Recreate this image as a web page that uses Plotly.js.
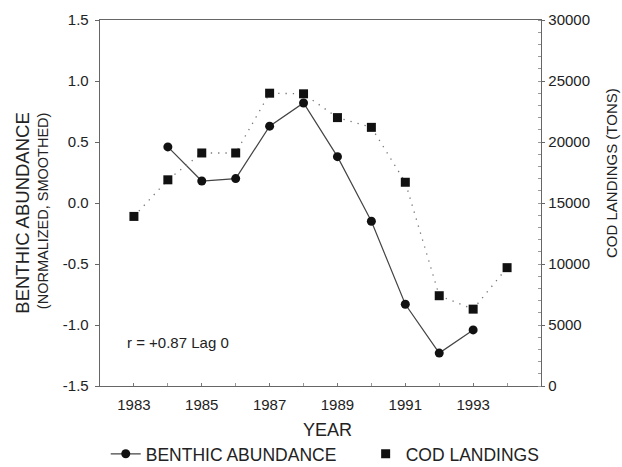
<!DOCTYPE html>
<html>
<head>
<meta charset="utf-8">
<script src="https://cdn.plot.ly/plotly-3.0.1.min.js"></script>
<style>html,body{margin:0;padding:0;background:#fff;}#chart{width:622px;height:467px;}</style>
</head>
<body>
<div id="chart"></div>
<script>
const benthicYears = [1984, 1985, 1986, 1987, 1988, 1989, 1990, 1991, 1992, 1993];
const benthicValues = [0.46, 0.18, 0.20, 0.63, 0.82, 0.38, -0.15, -0.83, -1.23, -1.04];
const codYears = [1983, 1984, 1985, 1986, 1987, 1988, 1989, 1990, 1991, 1992, 1993, 1994];
const codValues = [13900, 16900, 19100, 19100, 24000, 23950, 22000, 21200, 16700, 7400, 6300, 9700];
const xTickVals = [1983, 1985, 1987, 1989, 1991, 1993];
const leftTickVals = [-1.5, -1.0, -0.5, 0.0, 0.5, 1.0, 1.5];
const leftTickText = ['-1.5', '-1.0', '-0.5', '0.0', '0.5', '1.0', '1.5'];
const rightTickVals = [0, 5000, 10000, 15000, 20000, 25000, 30000];
const rightTickText = ['0', '5000', '10000', '15000', '20000', '25000', '30000'];

const font = 'Liberation Sans, Arial, sans-serif';
const ink = '#222';
const pad = '\u00a0\u00a0\u00a0\u00a0\u00a0';

const traces = [
  {
    x: benthicYears, y: benthicValues, name: 'BENTHIC ABUNDANCE' + pad,
    type: 'scatter', mode: 'lines+markers',
    line: {color: '#444', width: 1.2},
    marker: {symbol: 'circle', size: 9, color: '#111'},
    yaxis: 'y'
  },
  {
    x: codYears, y: codValues, name: 'COD LANDINGS line',
    type: 'scatter', mode: 'lines', showlegend: false,
    line: {color: '#777', width: 1.3, dash: '1.3px,6px'},
    yaxis: 'y2'
  },
  {
    x: codYears, y: codValues, name: 'COD LANDINGS',
    type: 'scatter', mode: 'markers',
    marker: {symbol: 'square', size: 9, color: '#111'},
    yaxis: 'y2'
  }
];

const layout = {
  width: 622, height: 467,
  margin: {l: 100, r: 81, t: 20, b: 81},
  paper_bgcolor: '#fff', plot_bgcolor: '#fff',
  font: {family: font, color: ink, size: 15},
  showlegend: true,
  legend: {
    orientation: 'h', xref: 'container', yref: 'container',
    x: 0.17, xanchor: 'left', y: 0.028, yanchor: 'middle',
    font: {family: font, size: 17.5, color: ink}, itemwidth: 30, tracegroupgap: 0,
    bgcolor: 'rgba(0,0,0,0)'
  },
  xaxis: {
    range: [1982, 1995], tickvals: xTickVals, ticktext: xTickVals.map(String),
    showgrid: false, zeroline: false, showline: true, linecolor: '#666', linewidth: 1.3,
    mirror: true, ticks: 'inside', ticklen: 3, tickcolor: '#777',
    minor: {dtick: 1, tick0: 1982, ticks: 'inside', ticklen: 3, tickcolor: '#999'},
    ticklabelstandoff: 5,
    tickfont: {size: 15, family: font, color: ink}
  },
  yaxis: {
    range: [-1.5, 1.5], tickvals: leftTickVals, ticktext: leftTickText,
    showgrid: false, zeroline: false, showline: true, linecolor: '#666', linewidth: 1.3,
    ticks: 'outside', ticklen: 4, tickcolor: '#666',
    ticklabelstandoff: 3,
    tickfont: {size: 15, family: font, color: ink}
  },
  yaxis2: {
    range: [0, 30000], overlaying: 'y', side: 'right',
    tickvals: rightTickVals, ticktext: rightTickText,
    showgrid: false, zeroline: false, showline: true, linecolor: '#666', linewidth: 1.3,
    ticks: 'outside', ticklen: 3, tickcolor: '#666',
    minor: {dtick: 1000, ticks: 'inside', ticklen: 3, tickcolor: '#999'},
    tickfont: {size: 15, family: font, color: ink}
  },
  annotations: [
    {text: 'BENTHIC ABUNDANCE', xref: 'paper', yref: 'paper', x: -0.175, y: 0.473,
     xanchor: 'center', yanchor: 'middle',
     textangle: -90, showarrow: false, font: {size: 18.5, family: font, color: ink}},
    {text: '(NORMALIZED, SMOOTHED)', xref: 'paper', yref: 'paper', x: -0.129, y: 0.478,
     xanchor: 'center', yanchor: 'middle',
     textangle: -90, showarrow: false, font: {size: 14.5, family: font, color: ink}},
    {text: 'COD LANDINGS (TONS)', xref: 'paper', yref: 'paper', x: 1.161, y: 0.582,
     xanchor: 'center', yanchor: 'middle',
     textangle: -90, showarrow: false, font: {size: 15, family: font, color: ink}},
    {text: 'YEAR', xref: 'paper', yref: 'paper', x: 0.515, y: -0.12,
     xanchor: 'center', yanchor: 'middle',
     showarrow: false, font: {size: 18, family: font, color: ink}},
    {text: 'r = +0.87 Lag 0', xref: 'x', yref: 'y', x: 1982.74, xanchor: 'left', y: -1.14,
     yanchor: 'middle',
     showarrow: false, font: {size: 15, family: font, color: ink}}
  ]
};

Plotly.newPlot('chart', traces, layout, {displayModeBar: false, staticPlot: true});
</script>
</body>
</html>
